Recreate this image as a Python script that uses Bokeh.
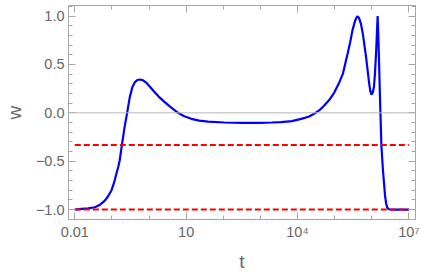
import math
from bokeh.plotting import figure
from bokeh.models import (FixedTicker, CustomJSTickFormatter, Span, LinearAxis,
                          LogAxis, ColumnDataSource, Range1d)
from bokeh.embed import file_html
from bokeh.resources import INLINE

# ---- data (log10 t, w) ----
log_t = [-2.00, -1.82, -1.64, -1.46, -1.32, -1.19, -1.10, -1.01, -0.94, -0.88,
         -0.83, -0.79, -0.73, -0.66, -0.59, -0.52, -0.45, -0.38, -0.31, -0.24,
         -0.16, -0.07, 0.03, 0.14, 0.26, 0.40, 0.55, 0.78, 0.95, 1.14, 1.35, 1.59,
         2.03, 2.50, 3.00, 3.30, 3.56, 3.85, 4.10, 4.30, 4.45, 4.60,
         4.72, 4.86, 4.99, 5.11, 5.22, 5.35, 5.42, 5.48, 5.55, 5.61,
         5.66, 5.71, 5.76, 5.80, 5.85, 5.89, 5.93, 5.96, 5.99, 6.02,
         6.06, 6.09, 6.12, 6.14, 6.16, 6.175, 6.19, 6.22, 6.26, 6.30,
         6.33, 6.36, 6.39, 6.42, 6.46, 6.55, 7.00]
w = [-1.000, -0.994, -0.988, -0.976, -0.950, -0.907, -0.860, -0.800, -0.720, -0.630,
     -0.560, -0.490, -0.330, -0.150, 0.000, 0.160, 0.265, 0.318, 0.340, 0.345,
     0.336, 0.310, 0.268, 0.218, 0.168, 0.118, 0.070, 0.000, -0.035, -0.062, -0.080, -0.090,
     -0.100, -0.103, -0.103, -0.100, -0.097, -0.085, -0.062, -0.040, -0.010, 0.030,
     0.075, 0.135, 0.210, 0.300, 0.400, 0.610, 0.730, 0.850, 0.950, 1.000,
     0.980, 0.920, 0.820, 0.710, 0.570, 0.440, 0.310, 0.230, 0.190, 0.200,
     0.265, 0.420, 0.640, 0.820, 1.000, 0.830, 0.640, 0.200, -0.330, -0.580,
     -0.720, -0.860, -0.940, -0.980, -0.997, -1.000, -1.000]
t = [10 ** v for v in log_t]

ref_levels = [-1 / 3, -1.0]
ref_t_extent = [0.01, 1e7]

x_ticks = [0.01, 10, 1e4, 1e7]
x_tick_labels = ["0.01", "10", "10\u2074", "10\u2077"]
x_minor = [1e-2, 1e-1, 1, 10, 1e2, 1e3, 1e4, 1e5, 1e6, 1e7]
y_ticks = [-1.0, -0.5, 0.0, 0.5, 1.0]
y_minor = [round(-1.1 + 0.1 * i, 1) for i in range(23)]

FRAME = "#a6a6a6"
LABEL = "#666666"
FONT = "Liberation Sans"

p = figure(width=421, height=275, x_axis_type="log",
           x_range=Range1d(10 ** -2.17, 10 ** 7.18), y_range=Range1d(-1.103, 1.11),
           output_backend="svg", toolbar_location=None,
           min_border_left=67, min_border_right=6, min_border_top=5,
           min_border_bottom=56)
p.grid.visible = False
p.outline_line_color = FRAME
p.outline_line_width = 1

p.add_layout(Span(location=0, dimension="width", line_color="#b8b8b8", line_width=1))

src = ColumnDataSource(dict(t=t, w=w))
p.line("t", "w", source=src, line_color="#0000ff", line_width=2.2)
for lv in ref_levels:
    p.line(ref_t_extent, [lv, lv], line_color="#ff0000", line_width=2, line_dash="6 3")

xfmt = CustomJSTickFormatter(args=dict(tvals=x_ticks, tlabels=x_tick_labels), code="""
let best = 0, bd = 1e9;
for (let i = 0; i < tvals.length; i++) {
  const d = Math.abs(Math.log10(tvals[i]) - Math.log10(tick));
  if (d < bd) { bd = d; best = i; }
}
return tlabels[best];
""")
yfmt = CustomJSTickFormatter(code="""
return (tick < -1e-9 ? "\u2212" : "") + Math.abs(tick).toFixed(1);
""")

def style(ax):
    ax.axis_line_color = None
    ax.major_tick_line_color = FRAME
    ax.minor_tick_line_color = FRAME
    ax.major_tick_in = 7
    ax.major_tick_out = 0
    ax.minor_tick_in = 4
    ax.minor_tick_out = 0
    ax.major_label_text_color = LABEL
    ax.major_label_text_font = FONT
    ax.major_label_text_font_size = "14.5px"
    ax.major_label_standoff = 4
    ax.axis_label_text_color = LABEL
    ax.axis_label_text_font = FONT
    ax.axis_label_text_font_size = "19px"
    ax.axis_label_text_font_style = "normal"

xa = p.xaxis[0]
xa.ticker = FixedTicker(ticks=x_ticks, minor_ticks=x_minor)
xa.formatter = xfmt
xa.axis_label = "t"
style(xa)
xa.axis_label_standoff = 8

ya = p.yaxis[0]
ya.ticker = FixedTicker(ticks=y_ticks, minor_ticks=y_minor)
ya.formatter = yfmt
ya.axis_label = "w"
style(ya)
ya.axis_label_standoff = 8

blank = CustomJSTickFormatter(code='return "";')
ra = LinearAxis(ticker=FixedTicker(ticks=y_ticks, minor_ticks=y_minor), formatter=blank)
style(ra)
ra.major_label_text_font_size = "1px"
ra.major_label_standoff = 0
p.add_layout(ra, "right")
ta = LogAxis(ticker=FixedTicker(ticks=x_ticks, minor_ticks=x_minor), formatter=blank)
style(ta)
ta.major_label_text_font_size = "1px"
ta.major_label_standoff = 0
p.add_layout(ta, "above")

open("out.html", "w").write(file_html(p, INLINE))
